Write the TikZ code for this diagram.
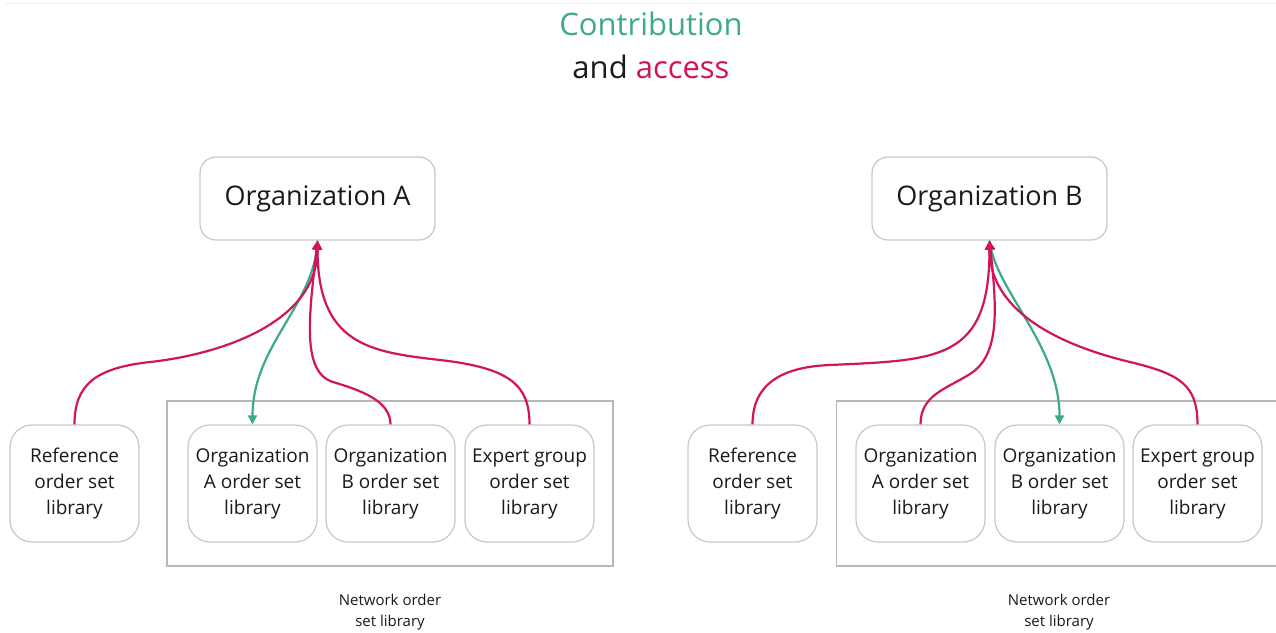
\documentclass[tikz,border=0pt]{standalone}
\usepackage{fontspec}
\setmainfont{Open Sans}
\usetikzlibrary{arrows.meta}
\definecolor{contribcol}{HTML}{3DAA8B}
\definecolor{accesscol}{HTML}{D2145A}
\definecolor{bordcol}{HTML}{C8C8C8}
\definecolor{netcol}{HTML}{B8B8B8}
\definecolor{inkcol}{HTML}{1A1A1A}
\begin{document}
\begin{tikzpicture}[x=1pt,y=-1pt,
  orgbox/.style={draw=bordcol,line width=1.2pt,fill=white,rounded corners=16pt,minimum width=235pt,minimum height=83pt,inner sep=0pt,font=\fontsize{27}{32}\selectfont,text=inkcol},
  libbox/.style={draw=bordcol,line width=1.2pt,fill=white,rounded corners=22pt,minimum width=129pt,minimum height=117pt,inner sep=0pt,align=center,font=\fontsize{19}{26}\selectfont,text=inkcol},
  netbox/.style={draw=netcol,line width=1.3pt,minimum width=446pt,minimum height=165pt,inner sep=0pt},
  netlabel/.style={align=center,font=\fontsize{15}{21}\selectfont,text=inkcol},
  titletext/.style={anchor=base,font=\fontsize{31}{40}\selectfont},
  accessline/.style={line width=2.2pt,draw=accesscol},
  contribline/.style={line width=2.2pt,draw=contribcol},
  arrowend/.style={-{Triangle[length=9pt,width=9pt]}}
]
\clip (0,0) rectangle (1276,632);
\fill[white] (0,0) rectangle (1276,632);
\draw[line width=1pt,black!6] (5,3) -- (1276,3);

% titles
\node[titletext,text=contribcol] (t1) at (651,35) {Contribution};
\node[titletext,text=inkcol] (t2) at (651,78) {and \textcolor{accesscol}{access}};

% network rectangles
\node[netbox] (netA) at (390,483.5) {};
\node[netbox] (netB) at (1059.5,483.5) {};
\node[netlabel] (netAl) at (390,612) {Network order\\set library};
\node[netlabel] (netBl) at (1059,612) {Network order\\set library};

% organization boxes
\node[orgbox] (orgA) at (317.5,198.5) {Organization A};
\node[orgbox] (orgB) at (989.5,198.5) {Organization B};

% library boxes left
\node[libbox] (refA) at (74.5,483.5) {Reference\\order set\\library};
\node[libbox] (libAA) at (252.5,483.5) {Organization\\A order set\\library};
\node[libbox] (libAB) at (390.5,483.5) {Organization\\B order set\\library};
\node[libbox] (expA) at (529.5,483.5) {Expert group\\order set\\library};
% library boxes right
\node[libbox] (refB) at (752.5,483.5) {Reference\\order set\\library};
\node[libbox] (libBA) at (920.5,483.5) {Organization\\A order set\\library};
\node[libbox] (libBB) at (1059.5,483.5) {Organization\\B order set\\library};
\node[libbox] (expB) at (1197.5,483.5) {Expert group\\order set\\library};

% waypoints
\coordinate (mA1) at (150,362);
\coordinate (mA2) at (440,360);
\coordinate (mA3) at (333,382);
\coordinate (mB1) at (830,365);
\coordinate (mB2) at (970,374);
\coordinate (mB3) at (1130,362);

% left connectors
\draw[contribline,arrowend] (orgA.south) .. controls (315,305) and (252.5,345) .. (libAA.north);
\draw[accessline,arrowend] (refA.north) .. controls (74.5,385) and (95,368) .. (mA1)
  .. controls (215,355) and (317.5,325) .. (orgA.south);
\draw[accessline,arrowend] (libAB.north) .. controls (390.5,400) and (359,390) .. (mA3)
  .. controls (300,372) and (310,310) .. (orgA.south);
\draw[accessline,arrowend] (expA.north) .. controls (529.5,385) and (510,368) .. (mA2)
  .. controls (370,352) and (317.5,345) .. (orgA.south);

% right connectors
\draw[contribline,arrowend] (orgB.south) .. controls (995,290) and (1059.5,345) .. (libBB.north);
\draw[accessline,arrowend] (refB.north) .. controls (752.5,385) and (780,367) .. (mB1)
  .. controls (940,360) and (989.5,360) .. (orgB.south);
\draw[accessline,arrowend] (libBA.north) .. controls (920.5,395) and (946,389) .. (mB2)
  .. controls (1000,355) and (997,310) .. (orgB.south);
\draw[accessline,arrowend] (expB.north) .. controls (1197.5,385) and (1180,374) .. (mB3)
  .. controls (1080,350) and (989.5,320) .. (orgB.south);
\end{tikzpicture}
\end{document}
